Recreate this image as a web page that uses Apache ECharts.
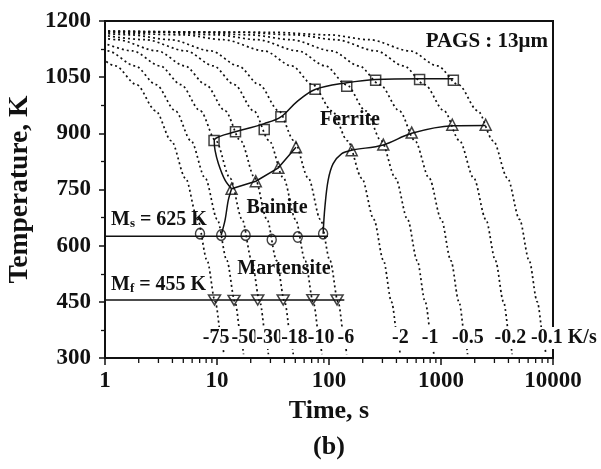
<!DOCTYPE html>
<html>
<head>
<meta charset="utf-8">
<script src="https://cdn.jsdelivr.net/npm/echarts@6/dist/echarts.min.js"></script>
<style>
  html, body { margin: 0; padding: 0; background: #fff; }
  #chart { width: 601px; height: 469px; }
</style>
</head>
<body>
<div id="chart"></div>
<script>
// Cooling rates (K/s) and the text printed at the foot of each cooling curve
const rates = [-75, -50, -30, -18, -10, -6, -2, -1, -0.5, -0.2, -0.1];
const rateLabels = ['-75', '-50', '-30', '-18', '-10', '-6', '-2', '-1', '-0.5', '-0.2', '-0.1 K/s'];

// Continuous cooling paths, [time s, temperature K]
const cool75 = [[0.87,1108],[1.24,1080],[1.91,1030],[2.84,960],[3.91,880],[5.24,780],[6.71,670],[8.17,560],[9.64,450],[11.11,340],[11.51,310]];
const cool50 = [[0.87,1130],[1.06,1120],[1.86,1080],[2.86,1030],[4.26,960],[5.86,880],[7.86,780],[10.06,670],[12.26,560],[14.46,450],[16.66,340],[17.26,310]];
const cool30 = [[0.87,1147],[1.77,1120],[3.1,1080],[4.77,1030],[7.1,960],[9.77,880],[13.1,780],[16.77,670],[20.43,560],[24.1,450],[27.77,340],[28.77,310]];
const cool18 = [[0.87,1157],[1.28,1150],[2.94,1120],[5.17,1080],[7.94,1030],[11.83,960],[16.28,880],[21.83,780],[27.94,670],[34.06,560],[40.17,450],[46.28,340],[47.94,310]];
const cool10 = [[0.87,1164],[2.3,1150],[5.3,1120],[9.3,1080],[14.3,1030],[21.3,960],[29.3,880],[39.3,780],[50.3,670],[61.3,560],[72.3,450],[83.3,340],[86.3,310]];
const cool6  = [[0.87,1168],[1.67,1163],[3.83,1150],[8.83,1120],[15.5,1080],[23.83,1030],[35.5,960],[48.83,880],[65.5,780],[83.83,670],[102.2,560],[120.5,450],[138.8,340],[143.8,310]];
const cool2  = [[0.87,1171],[5,1163],[11.5,1150],[26.5,1120],[46.5,1080],[71.5,1030],[106.5,960],[146.5,880],[196.5,780],[251.5,670],[306.5,560],[361.5,450],[416.5,340],[431.5,310]];
const cool1  = [[0.87,1172],[3,1170],[10,1163],[23,1150],[53,1120],[93,1080],[143,1030],[213,960],[293,880],[393,780],[503,670],[613,560],[723,450],[833,340],[863,310]];
const cool05 = [[0.87,1173],[6,1170],[20,1163],[46,1150],[106,1120],[186,1080],[286,1030],[426,960],[586,880],[786,780],[1006,670],[1226,560],[1446,450],[1666,340],[1726,310]];
const cool02 = [[0.87,1173],[15,1170],[50,1163],[115,1150],[265,1120],[465,1080],[715,1030],[1065,960],[1465,880],[1965,780],[2515,670],[3065,560],[3615,450],[4165,340],[4315,310]];
const cool01 = [[0.87,1173],[30,1170],[100,1163],[230,1150],[530,1120],[930,1080],[1430,1030],[2130,960],[2930,880],[3930,780],[5030,670],[6130,560],[7230,450],[8330,340],[8630,310]];
const coolingPaths = [cool75, cool50, cool30, cool18, cool10, cool6, cool2, cool1, cool05, cool02, cool01];

// Transformation points
const ferriteStart   = [[9.41,881],[14.63,904],[26.4,910],[37.2,944],[75.1,1018],[144,1026],[261,1042],[644,1044],[1289,1042]];
const bainiteStart   = [[13.5,752],[22.2,772],[35.3,808],[50.7,863]];
const ferriteFinish  = [[159.5,855],[305.3,870],[547.4,902],[1261.6,923],[2506,923]];
const msPoints       = [[7.05,632],[10.9,628],[18.0,628],[30.8,616],[52.6,623],[88.6,632]];
const mfPoints       = [[9.5,455],[14.2,454],[23.1,455],[39,455],[71.7,456],[118,455]];

// Fitted transformation boundaries
const ferriteStartCurve = [[13.5,752],[11.8,775],[10.3,819],[9.6,855],[9.45,881],[10.6,892],[14.6,904],[26.4,926],[37.2,944],[51.5,984],[75.1,1017],[144,1035],[261,1044],[644,1046],[1289,1046]];
const bainiteNose       = [[10.9,628],[11.8,668],[12.6,721],[13.5,752]];
const ferriteFinishCurve = [[88.6,632],[91.9,703],[98.3,775],[108.9,819],[130,846],[159.5,855],[305.3,869],[547.4,900],[1261.6,920],[2506,921]];
const msLine = [[1,625],[98,625]];
const mfLine = [[1,455],[137,455]];

// Minor ticks of the logarithmic time axis
const xMinorTicks = [2,3,4,5,6,7,8,9,20,30,40,50,60,70,80,90,200,300,400,500,600,700,800,900,2000,3000,4000,5000,6000,7000,8000,9000];

const FONT = '"Liberation Serif", "Times New Roman", serif';
const INK = '#111';

// Horizontal nudges (px) that keep the crowded rate labels apart
const labelNudge = [-6, 3, 3, 3, 1, 1, 2, -2, 2, 0, -14];

const chart = echarts.init(document.getElementById('chart'), null, { renderer: 'canvas' });

const series = [];

coolingPaths.forEach((path) => {
  series.push({
    type: 'line',
    data: path,
    smooth: 0.3,
    smoothMonotone: 'x',
    symbol: 'none',
    clip: false,
    silent: true,
    z: 2,
    lineStyle: { color: INK, width: 1.7, type: [2, 3] }
  });
});

// Rate labels sitting at the foot of each cooling path
series.push({
  type: 'scatter',
  symbolSize: 1,
  itemStyle: { color: 'rgba(0,0,0,0)' },
  z: 5,
  silent: true,
  data: coolingPaths.map((path, i) => {
    const p = path[path.length - 2];
    const last = i === coolingPaths.length - 1;
    return {
      value: p,
      label: {
        show: true,
        formatter: rateLabels[i],
        position: 'inside',
        align: last ? 'left' : 'center',
        verticalAlign: 'middle',
        offset: [labelNudge[i], -5],
        backgroundColor: '#fff',
        padding: [1, 1],
        fontFamily: FONT,
        fontWeight: 'bold',
        fontSize: 20,
        color: INK,
        opacity: 1,
        textBorderWidth: 0,
        textShadowBlur: 0
      }
    };
  })
});

const solid = (data, smooth) => ({
  type: 'line',
  data,
  smooth,
  symbol: 'none',
  silent: true,
  z: 3,
  lineStyle: { color: INK, width: 1.5 }
});
series.push(solid(ferriteStartCurve, 0.35));
series.push(solid(bainiteNose, 0.3));
series.push(solid(bainiteStart, false));
series.push(solid(ferriteFinishCurve, 0.35));
series.push(solid(msLine, false));
series.push(solid(mfLine, false));

const marker = (data, symbol, size, rotate) => ({
  type: 'scatter',
  data,
  symbol,
  symbolSize: size,
  symbolRotate: rotate || 0,
  silent: true,
  z: 4,
  itemStyle: { color: 'rgba(0,0,0,0)', borderColor: INK, borderWidth: 1.5 }
});
series.push(marker(ferriteStart, 'rect', 10));
series.push(marker(bainiteStart, 'triangle', [11, 11]));
series.push(marker(ferriteFinish, 'triangle', [11, 11]));
series.push(marker(msPoints, 'circle', [9, 10.5]));
series.push(marker(mfPoints, 'triangle', [12, 10], 180));

// Minor ticks on the time axis
series.push({
  type: 'custom',
  clip: false,
  silent: true,
  data: xMinorTicks.map(v => [v, 300]),
  renderItem: (params, api) => {
    const p = api.coord([api.value(0), api.value(1)]);
    return {
      type: 'line',
      shape: { x1: p[0], y1: p[1], x2: p[0], y2: p[1] + 5 },
      style: { stroke: INK, lineWidth: 1.3 }
    };
  }
});

const textStyle = (size) => ({ fontFamily: FONT, fontWeight: 'bold', fontSize: size, color: INK });

const option = {
  backgroundColor: '#fff',
  animation: false,
  grid: {
    left: 105, right: 48, top: 21, bottom: 111,
    containLabel: false, outerBoundsMode: 'none',
    show: true, borderColor: INK, borderWidth: 2, backgroundColor: 'transparent'
  },
  xAxis: {
    type: 'log',
    logBase: 10,
    min: 1,
    max: 10000,
    axisLine: { lineStyle: { color: INK, width: 2 } },
    axisTick: { show: true, length: 7, inside: false, lineStyle: { color: INK, width: 1.5 } },
    axisLabel: Object.assign({ margin: 12, formatter: v => String(Math.round(v)) }, textStyle(23)),
    splitLine: { show: false },
    name: 'Time, s',
    nameLocation: 'middle',
    nameGap: 40,
    nameTextStyle: textStyle(26)
  },
  yAxis: {
    type: 'value',
    min: 300,
    max: 1200,
    interval: 150,
    axisLine: { show: true, lineStyle: { color: INK, width: 2 } },
    axisTick: { show: true, length: 6, inside: false, lineStyle: { color: INK, width: 1.5 } },
    minorTick: { show: true, splitNumber: 2, length: 4, lineStyle: { color: INK, width: 1.3 } },
    axisLabel: Object.assign({ margin: 14, formatter: v => String(v) }, textStyle(23)),
    splitLine: { show: false },
    name: 'Temperature, K',
    nameLocation: 'middle',
    nameRotate: 90,
    nameGap: 69,
    nameTextStyle: textStyle(27.5)
  },
  graphic: [
    { type: 'text', x: 548, y: 42, style: { text: 'PAGS : 13\u03bcm', align: 'right', verticalAlign: 'middle', fill: INK, font: 'bold 21px ' + FONT } },
    { type: 'text', x: 350, y: 120, style: { text: 'Ferrite', align: 'center', verticalAlign: 'middle', fill: INK, font: 'bold 20px ' + FONT } },
    { type: 'text', x: 277, y: 208, style: { text: 'Bainite', align: 'center', verticalAlign: 'middle', fill: INK, font: 'bold 20px ' + FONT } },
    { type: 'text', x: 284, y: 269, style: { text: 'Martensite', align: 'center', verticalAlign: 'middle', fill: INK, font: 'bold 20px ' + FONT } },
    { type: 'text', x: 111, y: 219, style: {
        text: '{a|M}{b|s}{a| = 625 K}', align: 'left', verticalAlign: 'middle', fill: INK,
        rich: {
          a: { fontFamily: FONT, fontWeight: 'bold', fontSize: 20, lineHeight: 22, verticalAlign: 'bottom', color: INK },
          b: { fontFamily: FONT, fontWeight: 'bold', fontSize: 13, lineHeight: 12, verticalAlign: 'bottom', color: INK }
        } } },
    { type: 'text', x: 111, y: 284, style: {
        text: '{a|M}{b|f}{a| = 455 K}', align: 'left', verticalAlign: 'middle', fill: INK,
        rich: {
          a: { fontFamily: FONT, fontWeight: 'bold', fontSize: 20, lineHeight: 22, verticalAlign: 'bottom', color: INK },
          b: { fontFamily: FONT, fontWeight: 'bold', fontSize: 13, lineHeight: 12, verticalAlign: 'bottom', color: INK }
        } } },
    { type: 'text', x: 329, y: 447, style: { text: '(b)', align: 'center', verticalAlign: 'middle', fill: INK, font: 'bold 26px ' + FONT } }
  ],
  series
};

chart.setOption(option);
</script>
</body>
</html>
